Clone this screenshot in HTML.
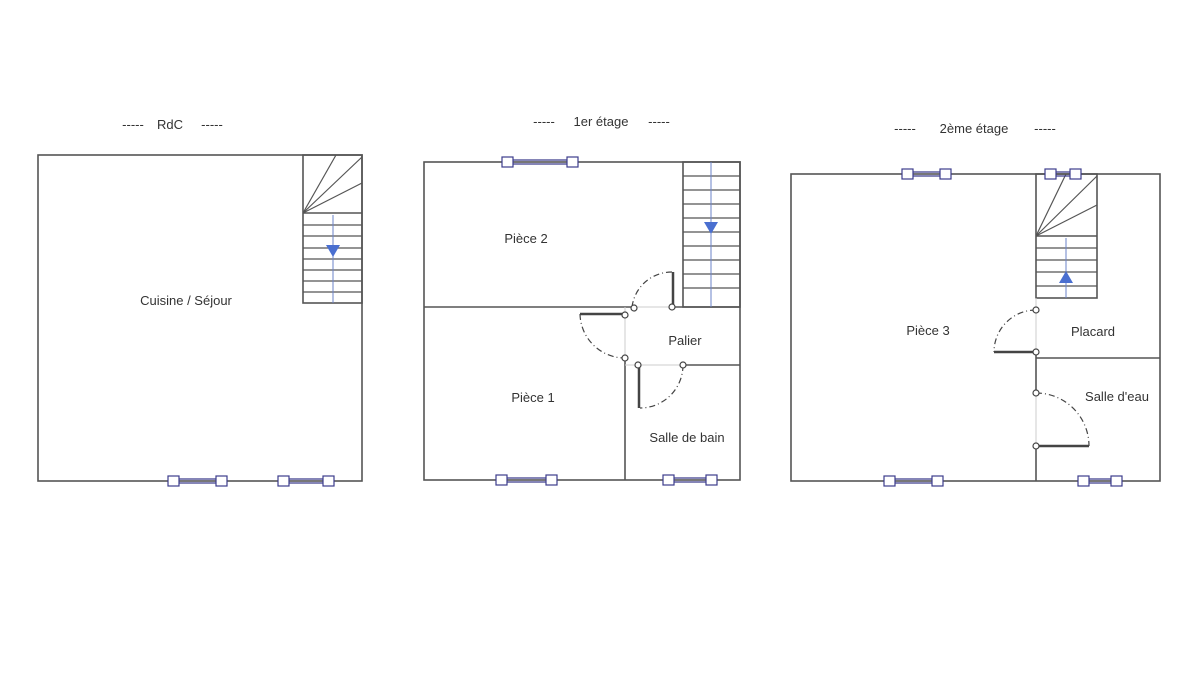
<!DOCTYPE html>
<html><head><meta charset="utf-8"><style>
html,body{margin:0;padding:0;background:#fff;}
svg{display:block;}
text{font-family:"Liberation Sans",sans-serif;font-size:13px;fill:#333;}
</style></head><body>
<svg width="1200" height="675" viewBox="0 0 1200 675" xmlns="http://www.w3.org/2000/svg">
<g stroke="#555" stroke-width="1.6" fill="none">
<rect x="38" y="155" width="324" height="326"/>
<rect x="303" y="155" width="59" height="148"/>
<line x1="303" y1="213" x2="362" y2="213"/>
<g stroke-width="1.2">
<line x1="303" y1="213" x2="336" y2="155"/>
<line x1="303" y1="213" x2="362" y2="157"/>
<line x1="303" y1="213" x2="362" y2="183"/>
<line x1="303" y1="225" x2="362" y2="225"/>
<line x1="303" y1="236" x2="362" y2="236"/>
<line x1="303" y1="248" x2="362" y2="248"/>
<line x1="303" y1="259" x2="362" y2="259"/>
<line x1="303" y1="270" x2="362" y2="270"/>
<line x1="303" y1="281" x2="362" y2="281"/>
<line x1="303" y1="292" x2="362" y2="292"/>
</g>
<rect x="424" y="162" width="316" height="318"/>
<rect x="683" y="162" width="57" height="145"/>
<g stroke-width="1.2">
<line x1="683" y1="176" x2="740" y2="176"/><line x1="683" y1="190" x2="740" y2="190"/>
<line x1="683" y1="204" x2="740" y2="204"/><line x1="683" y1="218" x2="740" y2="218"/>
<line x1="683" y1="232" x2="740" y2="232"/><line x1="683" y1="246" x2="740" y2="246"/>
<line x1="683" y1="260" x2="740" y2="260"/><line x1="683" y1="274" x2="740" y2="274"/>
<line x1="683" y1="288" x2="740" y2="288"/>
</g>
<line x1="424" y1="307" x2="632" y2="307"/>
<line x1="672" y1="307" x2="740" y2="307"/>
<line x1="625" y1="358" x2="625" y2="480"/>
<line x1="683" y1="365" x2="740" y2="365"/>
<rect x="791" y="174" width="369" height="307"/>
<rect x="1036" y="174" width="61" height="124"/>
<line x1="1036" y1="236" x2="1097" y2="236"/>
<g stroke-width="1.2">
<line x1="1036" y1="236" x2="1066" y2="174"/>
<line x1="1036" y1="236" x2="1097" y2="176"/>
<line x1="1036" y1="236" x2="1097" y2="205"/>
<line x1="1036" y1="248" x2="1097" y2="248"/><line x1="1036" y1="260" x2="1097" y2="260"/>
<line x1="1036" y1="272" x2="1097" y2="272"/><line x1="1036" y1="286" x2="1097" y2="286"/>
</g>
<line x1="1036" y1="352" x2="1036" y2="393"/>
<line x1="1036" y1="446" x2="1036" y2="481"/>
<line x1="1036" y1="358" x2="1160" y2="358"/>
</g>
<g stroke="#6b83c9" stroke-width="1">
<line x1="333" y1="215" x2="333" y2="303"/>
<line x1="711" y1="162" x2="711" y2="307"/>
<line x1="1066" y1="238" x2="1066" y2="298"/>
</g>
<g fill="#4a6fd0">
<polygon points="326,245 340,245 333,257"/>
<polygon points="704,222 718,222 711,234"/>
<polygon points="1059,283 1073,283 1066,271"/>
</g>
<g stroke="#ccc" stroke-width="1">
<line x1="632" y1="307" x2="672" y2="307"/>
<line x1="625" y1="307" x2="625" y2="358"/>
<line x1="625" y1="365" x2="683" y2="365"/>
<line x1="1036" y1="298" x2="1036" y2="352"/>
<line x1="1036" y1="393" x2="1036" y2="446"/>
</g>
<g stroke="#444" fill="none">
<path d="M632,307 A40,40 0 0 1 672,272" stroke-width="1.2" stroke-dasharray="6,3,1,3"/>
<line x1="673" y1="272" x2="673" y2="307" stroke-width="2.5"/>
<path d="M580,314 A45,45 0 0 0 625,358" stroke-width="1.2" stroke-dasharray="6,3,1,3"/>
<line x1="580" y1="314" x2="624" y2="314" stroke-width="2.5"/>
<path d="M683,365 A43,43 0 0 1 640,408" stroke-width="1.2" stroke-dasharray="6,3,1,3"/>
<line x1="639" y1="365" x2="639" y2="408" stroke-width="2.5"/>
<path d="M1036,310 A42,42 0 0 0 994,352" stroke-width="1.2" stroke-dasharray="6,3,1,3"/>
<line x1="994" y1="352" x2="1036" y2="352" stroke-width="2.5"/>
<path d="M1036,393 A53,53 0 0 1 1089,446" stroke-width="1.2" stroke-dasharray="6,3,1,3"/>
<line x1="1036" y1="446" x2="1089" y2="446" stroke-width="2.5"/>
</g>
<g fill="#fff" stroke="#444" stroke-width="1.2">
<circle cx="634" cy="308" r="3"/><circle cx="672" cy="307" r="3"/>
<circle cx="625" cy="315" r="3"/><circle cx="625" cy="358" r="3"/>
<circle cx="638" cy="365" r="3"/><circle cx="683" cy="365" r="3"/>
<circle cx="1036" cy="310" r="3"/><circle cx="1036" cy="352" r="3"/>
<circle cx="1036" cy="393" r="3"/><circle cx="1036" cy="446" r="3"/>
</g>
<g stroke="#3c3c8c" stroke-width="1.2" fill="#fff">
<line x1="175" y1="479" x2="220" y2="479"/><line x1="175" y1="483" x2="220" y2="483"/><rect x="168" y="476" width="11" height="10"/><rect x="216" y="476" width="11" height="10"/>
<line x1="285" y1="479" x2="328" y2="479"/><line x1="285" y1="483" x2="328" y2="483"/><rect x="278" y="476" width="11" height="10"/><rect x="323" y="476" width="11" height="10"/>
<line x1="510" y1="160" x2="570" y2="160"/><line x1="510" y1="164" x2="570" y2="164"/><rect x="502" y="157" width="11" height="10"/><rect x="567" y="157" width="11" height="10"/>
<line x1="503" y1="478" x2="550" y2="478"/><line x1="503" y1="482" x2="550" y2="482"/><rect x="496" y="475" width="11" height="10"/><rect x="546" y="475" width="11" height="10"/>
<line x1="670" y1="478" x2="710" y2="478"/><line x1="670" y1="482" x2="710" y2="482"/><rect x="663" y="475" width="11" height="10"/><rect x="706" y="475" width="11" height="10"/>
<line x1="908" y1="172" x2="944" y2="172"/><line x1="908" y1="176" x2="944" y2="176"/><rect x="902" y="169" width="11" height="10"/><rect x="940" y="169" width="11" height="10"/>
<line x1="1050" y1="172" x2="1074" y2="172"/><line x1="1050" y1="176" x2="1074" y2="176"/><rect x="1045" y="169" width="11" height="10"/><rect x="1070" y="169" width="11" height="10"/>
<line x1="890" y1="479" x2="937" y2="479"/><line x1="890" y1="483" x2="937" y2="483"/><rect x="884" y="476" width="11" height="10"/><rect x="932" y="476" width="11" height="10"/>
<line x1="1084" y1="479" x2="1116" y2="479"/><line x1="1084" y1="483" x2="1116" y2="483"/><rect x="1078" y="476" width="11" height="10"/><rect x="1111" y="476" width="11" height="10"/>
</g>
<g fill="#444">
<text x="133" y="129" text-anchor="middle">-----</text>
<text x="170" y="129" text-anchor="middle">RdC</text>
<text x="212" y="129" text-anchor="middle">-----</text>
<text x="544" y="126" text-anchor="middle">-----</text>
<text x="601" y="126" text-anchor="middle">1er étage</text>
<text x="659" y="126" text-anchor="middle">-----</text>
<text x="905" y="133" text-anchor="middle">-----</text>
<text x="974" y="133" text-anchor="middle">2ème étage</text>
<text x="1045" y="133" text-anchor="middle">-----</text>
</g>
<text x="186" y="305" text-anchor="middle">Cuisine / Séjour</text>
<text x="526" y="243" text-anchor="middle">Pièce 2</text>
<text x="533" y="402" text-anchor="middle">Pièce 1</text>
<text x="685" y="345" text-anchor="middle">Palier</text>
<text x="687" y="442" text-anchor="middle">Salle de bain</text>
<text x="928" y="335" text-anchor="middle">Pièce 3</text>
<text x="1093" y="336" text-anchor="middle">Placard</text>
<text x="1117" y="401" text-anchor="middle">Salle d'eau</text>
</svg>
</body></html>
